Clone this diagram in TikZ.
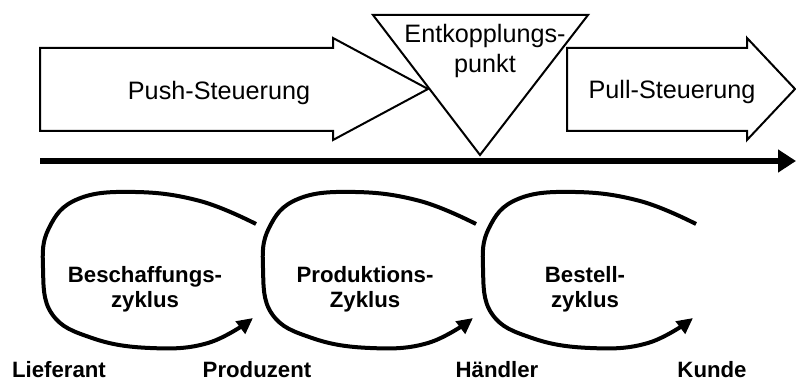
\documentclass[tikz,border=0pt]{standalone}
\usepackage{fontspec}
\setmainfont{Liberation Sans}
\usetikzlibrary{arrows.meta}
\definecolor{cblack}{HTML}{000000}
\tikzset{
  every picture/.style={line width=1pt},
  outline/.style={draw=cblack, fill=white, line width=1pt, line join=miter},
  axis/.style={-{Triangle[length=9pt, width=11pt]}, draw=cblack, line width=3pt},
  cyclepath/.style={-{Triangle[length=8pt, width=7.5pt]}, draw=cblack, line width=2pt},
  lab/.style={font=\fontsize{12.6}{15}\selectfont, align=center},
  cyclab/.style={font=\bfseries\fontsize{11.1}{12.5}\selectfont, align=center},
  role/.style={font=\bfseries\fontsize{11.1}{12.5}\selectfont, anchor=base},
}
\begin{document}
\begin{tikzpicture}[x=0.5pt, y=-0.5pt]
  \useasboundingbox (0,0) rectangle (796,383);
  % ---------- push / pull arrows ----------
  \draw[outline] (40,48) -- (333,48) -- (333,38) -- (428,89) -- (333,140) -- (333,131) -- (40,131) -- cycle;
  \node[lab, anchor=base] (push) at (219,100) {Push-Steuerung};
  \draw[outline] (567,48) -- (747,48) -- (747,38) -- (795,89) -- (747,140) -- (747,131) -- (567,131) -- cycle;
  \node[lab, anchor=base] (pull) at (672,99) {Pull-Steuerung};
  % ---------- decoupling point ----------
  \draw[outline] (373,15) -- (588,15) -- (480,155) -- cycle;
  \node[lab] (entk) at (485,51) {Entkopplungs-\\punkt};
  % ---------- time axis ----------
  \coordinate (ax0) at (40,161);
  \coordinate (ax1) at (796,161);
  \draw[axis] (ax0) -- (ax1);
  % ---------- cycles ----------
  \foreach \i/\t in {0/{Beschaffungs-\\zyklus}, 1/{Produktions-\\Zyklus}, 2/{Bestell-\\zyklus}} {
    \begin{scope}[shift={(220*\i,0)}]
      \draw[cyclepath] plot[smooth, tension=0.7] coordinates {(256,224) (200,201) (135,192) (78,199)
        (49,228) (43,268) (52,314) (92,338) (150,348) (208,343) (253,318)};
      \node[cyclab] (zyk\i) at (145,289) {\t};
    \end{scope}
  }
  % ---------- roles ----------
  \node[role] (lief) at (59,378) {Lieferant};
  \node[role] (prod) at (257,378) {Produzent};
  \node[role] (haend) at (497,378) {Händler};
  \node[role] (kunde) at (712,378) {Kunde};
\end{tikzpicture}
\end{document}
